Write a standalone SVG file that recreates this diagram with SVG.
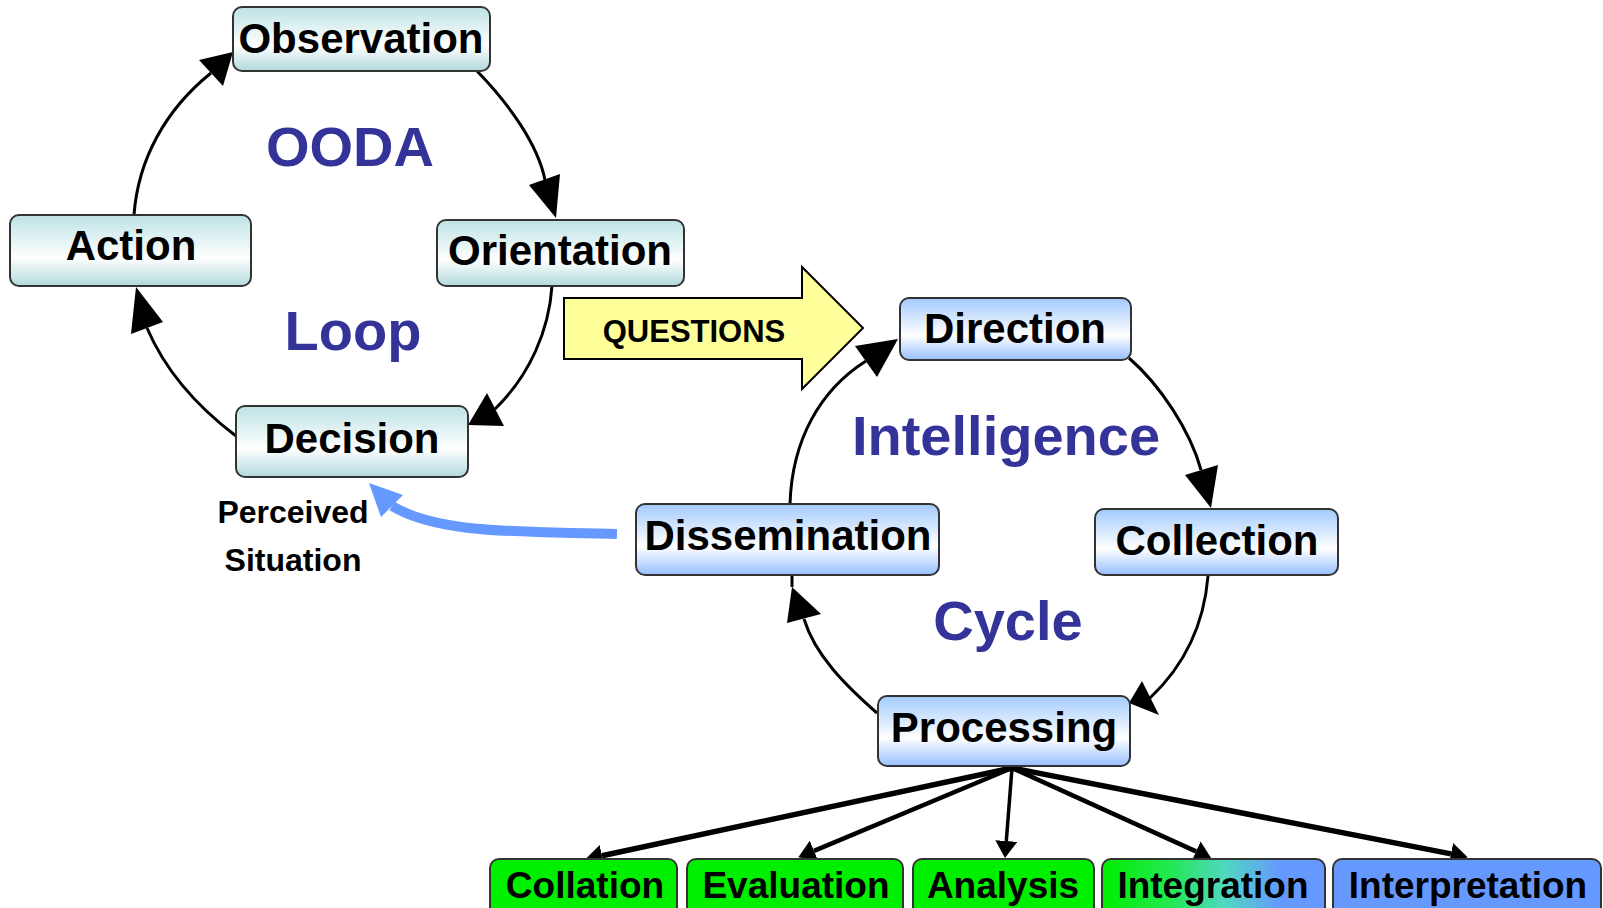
<svg xmlns="http://www.w3.org/2000/svg" width="1603" height="908" viewBox="0 0 1603 908">
  <defs>
    <linearGradient id="gTeal" x1="0" y1="0" x2="0" y2="1">
      <stop offset="0" stop-color="#bde2e4"/>
      <stop offset="0.6" stop-color="#ffffff"/>
      <stop offset="1" stop-color="#b1d9dc"/>
    </linearGradient>
    <linearGradient id="gBlue" x1="0" y1="0" x2="0" y2="1">
      <stop offset="0" stop-color="#a2cafd"/>
      <stop offset="0.6" stop-color="#ffffff"/>
      <stop offset="1" stop-color="#96bfff"/>
    </linearGradient>
    <linearGradient id="gMix" x1="0" y1="0" x2="1" y2="0">
      <stop offset="0" stop-color="#00ee00"/>
      <stop offset="0.3" stop-color="#22e850"/>
      <stop offset="0.55" stop-color="#4fd8c0"/>
      <stop offset="0.8" stop-color="#6699ff"/>
      <stop offset="1" stop-color="#6699ff"/>
    </linearGradient>
    <marker id="tip" markerUnits="userSpaceOnUse" markerWidth="20" markerHeight="24" refX="0" refY="11" orient="auto">
      <path d="M0,0 L17,11 L0,22 z" fill="#000"/>
    </marker>
  </defs>
  <style>
    .box { stroke: #333; stroke-width: 2; }
    .teal { fill: url(#gTeal); }
    .blue { fill: url(#gBlue); }
    .green { fill: #00ee00; }
    .mix { fill: url(#gMix); }
    .peri { fill: #6699ff; }
    .lbl { font-family: "Liberation Sans", Arial, sans-serif; font-weight: bold; font-size: 42px; fill: #000; text-anchor: middle; }
    .sub { font-size: 37px; }
    .big { font-family: "Liberation Sans", Arial, sans-serif; font-weight: bold; font-size: 56px; fill: #333399; text-anchor: middle; }
    .note { font-family: "Liberation Sans", Arial, sans-serif; font-weight: bold; font-size: 32px; fill: #000; text-anchor: middle; }
    .arc { fill: none; stroke: #000; stroke-width: 3; }
    .head { fill: #000; }
    .fan { fill: none; stroke: #000; marker-end: url(#tip); }
  </style>

  <!-- cycle titles -->
  <g id="titles">
    <text class="big" x="350" y="166">OODA</text>
    <text class="big" x="353" y="350">Loop</text>
    <text class="big" x="1006" y="455">Intelligence</text>
    <text class="big" x="1008" y="640">Cycle</text>
  </g>

  <!-- connectors -->
  <g id="connectors">
    <!-- OODA loop -->
    <path class="arc" d="M477,71 C510,105 538,145 545,180"/>
    <polygon class="head" points="529,185 560,174 556,218"/>
    <path class="arc" d="M552,286 C549,330 530,375 495,409"/>
    <polygon class="head" points="487,393 504,426 468,425"/>
    <path class="arc" d="M236,436 C195,405 165,370 147,328"/>
    <polygon class="head" points="131,334 163,322 136,287"/>
    <path class="arc" d="M134,215 C138,160 165,110 211,73"/>
    <polygon class="head" points="199,60 223,86 233,52"/>

    <!-- intelligence cycle -->
    <path class="arc" d="M1129,358 C1160,385 1190,430 1201,470"/>
    <polygon class="head" points="1185,475 1218,465 1211,508"/>
    <path class="arc" d="M1208,576 C1204,625 1185,665 1150,698"/>
    <polygon class="head" points="1142,681 1159,715 1129,703"/>
    <path class="arc" d="M877,713 C845,685 815,655 804,619"/>
    <polygon class="head" points="787,623 821,614 792,587"/>
    <line class="arc" x1="792" y1="587" x2="792" y2="575"/>
    <path class="arc" d="M790,504 C792,440 820,390 866,361"/>
    <polygon class="head" points="855,346 877,377 898,339"/>

    <!-- perceived situation feedback -->
    <path d="M617,534 C525,531 440,535 392,506" fill="none" stroke="#6699ff" stroke-width="10"/>
    <polygon points="369,483 403,495 381,517" fill="#6699ff"/>

    <!-- processing fan-out -->
    <path class="fan" stroke-width="5.5" d="M1012,768 L602,855.7"/>
    <path class="fan" stroke-width="4.5" d="M1012,768 L814,850.8"/>
    <path class="fan" stroke-width="3.5" d="M1012,768 L1006.3,841"/>
    <path class="fan" stroke-width="4.5" d="M1012,768 L1196,851.4"/>
    <path class="fan" stroke-width="5.5" d="M1012,768 L1451,853.9"/>
  </g>

  <!-- questions arrow -->
  <g id="questions">
    <polygon points="564,298 802,298 802,267 863,328 802,389 802,359 564,359" fill="#ffff99" stroke="#000" stroke-width="2"/>
    <text class="lbl" x="694" y="342" style="font-size:31px">QUESTIONS</text>
  </g>

  <!-- OODA nodes -->
  <g id="observation">
    <rect class="box teal" x="233" y="7" width="257" height="64" rx="9"/>
    <text class="lbl" x="361" y="53">Observation</text>
  </g>
  <g id="orientation">
    <rect class="box teal" x="437" y="220" width="247" height="66" rx="9"/>
    <text class="lbl" x="560" y="265">Orientation</text>
  </g>
  <g id="decision">
    <rect class="box teal" x="236" y="406" width="232" height="71" rx="9"/>
    <text class="lbl" x="352" y="453">Decision</text>
  </g>
  <g id="action">
    <rect class="box teal" x="10" y="215" width="241" height="71" rx="9"/>
    <text class="lbl" x="131" y="260">Action</text>
  </g>

  <!-- perceived situation note -->
  <g id="perceived">
    <text class="note" x="293" y="523">Perceived</text>
    <text class="note" x="293" y="571">Situation</text>
  </g>

  <!-- intelligence nodes -->
  <g id="direction">
    <rect class="box blue" x="900" y="298" width="231" height="62" rx="9"/>
    <text class="lbl" x="1015" y="343">Direction</text>
  </g>
  <g id="collection">
    <rect class="box blue" x="1095" y="509" width="243" height="66" rx="9"/>
    <text class="lbl" x="1217" y="555">Collection</text>
  </g>
  <g id="processing">
    <rect class="box blue" x="878" y="696" width="252" height="70" rx="9"/>
    <text class="lbl" x="1004" y="742">Processing</text>
  </g>
  <g id="dissemination">
    <rect class="box blue" x="636" y="504" width="303" height="71" rx="9"/>
    <text class="lbl" x="788" y="550">Dissemination</text>
  </g>

  <!-- processing steps -->
  <g id="collation">
    <rect class="box green" x="490" y="859" width="187" height="70" rx="9"/>
    <text class="lbl sub" x="585" y="898">Collation</text>
  </g>
  <g id="evaluation">
    <rect class="box green" x="687" y="859" width="216" height="70" rx="9"/>
    <text class="lbl sub" x="796" y="898">Evaluation</text>
  </g>
  <g id="analysis">
    <rect class="box green" x="913" y="859" width="181" height="70" rx="9"/>
    <text class="lbl sub" x="1003" y="898">Analysis</text>
  </g>
  <g id="integration">
    <rect class="box mix" x="1102" y="859" width="223" height="70" rx="9"/>
    <text class="lbl sub" x="1213" y="898">Integration</text>
  </g>
  <g id="interpretation">
    <rect class="box peri" x="1333" y="859" width="268" height="70" rx="9"/>
    <text class="lbl sub" x="1468" y="898">Interpretation</text>
  </g>
</svg>
